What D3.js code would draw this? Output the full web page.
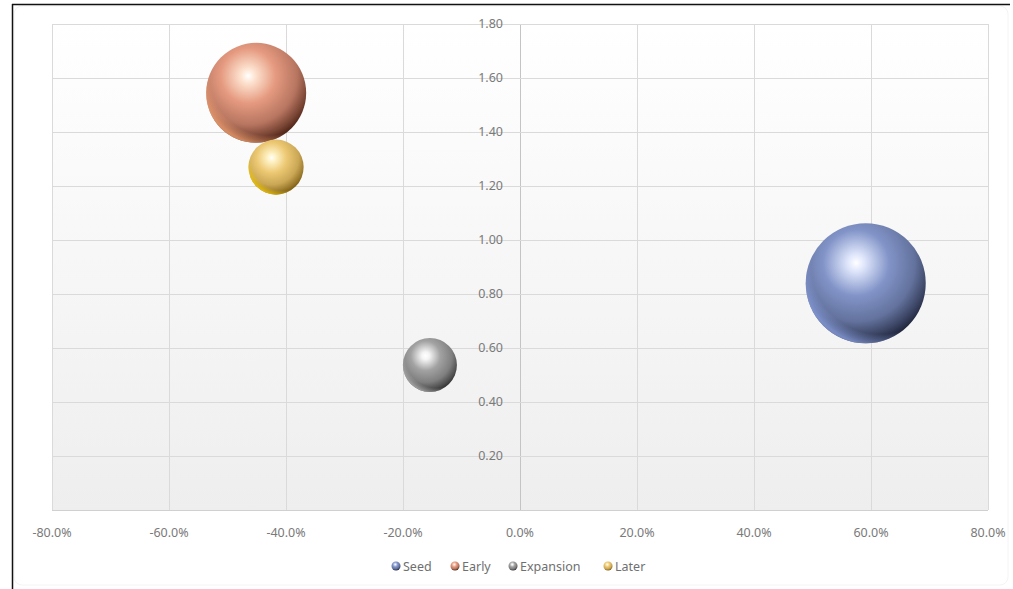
<!DOCTYPE html>
<html>
<head>
<meta charset="utf-8">
<script src="https://cdn.jsdelivr.net/npm/d3@7/dist/d3.min.js"></script>
<style>
  html, body { margin: 0; padding: 0; background: #ffffff; }
  svg { display: block; }
  text { font-family: "Noto Sans", "Open Sans", sans-serif; }
</style>
</head>
<body>
<svg id="chart" width="1013" height="589"></svg>
<script>
// ---- data ----
const seriesNames = ["Seed", "Early", "Expansion", "Later"];
const xValues = [0.591, -0.451, -0.154, -0.417];
const yValues = [0.84, 1.545, 0.537, 1.27];
const sizeValues = [36, 25, 7.3, 7.6];
const xTicks = [-0.8, -0.6, -0.4, -0.2, 0, 0.2, 0.4, 0.6, 0.8];
const yTicks = [0.2, 0.4, 0.6, 0.8, 1.0, 1.2, 1.4, 1.6, 1.8];
const baseColors = ["#8294c8", "#e59a80", "#a2a2a2", "#ecc873"];
const lightColors = ["#dfe6fb", "#fde3d0", "#f4f4f4", "#fff3c8"];
const darkColors = ["#1c2238", "#4a2014", "#2e2e2e", "#7a5a10"];
const rimColors = ["#8aa0e0", "#f0a070", "#b0b0b0", "#f0c800"];

const svg = d3.select("#chart");
const plot = { left: 52, top: 24, right: 988, bottom: 510 };

const x = d3.scaleLinear().domain([-0.8, 0.8]).range([plot.left, plot.right]);
const y = d3.scaleLinear().domain([0, 1.8]).range([plot.bottom, plot.top]);
const r = d3.scaleSqrt().domain([0, 36]).range([0, 60]);

const defs = svg.append("defs");
const bg = defs.append("linearGradient").attr("id", "plotbg")
  .attr("x1", 0).attr("y1", 0).attr("x2", 0).attr("y2", 1);
bg.append("stop").attr("offset", "0%").attr("stop-color", "#ffffff");
bg.append("stop").attr("offset", "100%").attr("stop-color", "#eeeeee");

seriesNames.forEach((n, i) => {
  const mid = d3.interpolateRgb(baseColors[i], darkColors[i]);
  const g = defs.append("radialGradient").attr("id", "sph" + i)
    .attr("cx", "42%").attr("cy", "33%").attr("r", "72%")
    .attr("fx", "42%").attr("fy", "33%");
  g.append("stop").attr("offset", "0%").attr("stop-color", "#ffffff");
  g.append("stop").attr("offset", "10%").attr("stop-color", lightColors[i]);
  g.append("stop").attr("offset", "38%").attr("stop-color", baseColors[i]);
  g.append("stop").attr("offset", "68%").attr("stop-color", mid(0.3));
  g.append("stop").attr("offset", "85%").attr("stop-color", mid(0.7));
  g.append("stop").attr("offset", "96%").attr("stop-color", darkColors[i]);
  // bottom-left rim reflection
  const g2 = defs.append("radialGradient").attr("id", "rim" + i)
    .attr("cx", "62%").attr("cy", "35%").attr("r", "70%")
    .attr("fx", "62%").attr("fy", "35%");
  g2.append("stop").attr("offset", "82%").attr("stop-color", rimColors[i]).attr("stop-opacity", 0);
  g2.append("stop").attr("offset", "96%").attr("stop-color", rimColors[i]).attr("stop-opacity", 0.75);
});

// outer frame
svg.append("rect").attr("x", 14).attr("y", 6).attr("width", 994).attr("height", 579)
  .attr("rx", 8).attr("fill", "#ffffff").attr("stroke", "#f4f4f4").attr("stroke-width", 1);
svg.append("line").attr("x1", 12).attr("x2", 1010).attr("y1", 4.5).attr("y2", 4.5)
  .attr("stroke", "#111").attr("stroke-width", 1.5);
svg.append("line").attr("x1", 12.5).attr("x2", 12.5).attr("y1", 4).attr("y2", 589)
  .attr("stroke", "#111").attr("stroke-width", 1.5);

// plot background
svg.append("rect").attr("x", plot.left).attr("y", plot.top)
  .attr("width", plot.right - plot.left).attr("height", plot.bottom - plot.top)
  .attr("fill", "url(#plotbg)");

// grid lines
const gridG = svg.append("g");
gridG.selectAll("line.vx").data(xTicks).join("line")
  .attr("x1", d => Math.round(x(d)) + 0.5).attr("x2", d => Math.round(x(d)) + 0.5)
  .attr("y1", plot.top).attr("y2", plot.bottom)
  .attr("stroke", d => d === 0 ? "#c4c4c4" : "#dadada").attr("stroke-width", 1);
gridG.selectAll("line.hy").data([0].concat(yTicks)).join("line")
  .attr("x1", plot.left).attr("x2", plot.right)
  .attr("y1", d => Math.round(y(d)) + 0.5).attr("y2", d => Math.round(y(d)) + 0.5)
  .attr("stroke", d => d === 0 ? "#d0d0d0" : "#dadada").attr("stroke-width", 1);

// y axis labels (next to vertical axis at x=0)
svg.append("g").selectAll("text").data(yTicks).join("text")
  .attr("x", x(0) - 17).attr("y", d => y(d) + 4)
  .attr("text-anchor", "end").attr("font-size", 12.5).attr("fill", "#7a7a7a")
  .text(d => d3.format(".2f")(d));

// x axis labels
const fmtX = d3.format(".1%");
svg.append("g").selectAll("text").data(xTicks).join("text")
  .attr("x", d => x(d)).attr("y", 537)
  .attr("text-anchor", "middle").attr("font-size", 12.5).attr("fill", "#7a7a7a")
  .text(d => fmtX(d).replace("−", "-"));

// bubbles (largest first)
const idx = d3.range(seriesNames.length).sort((a, b) => sizeValues[b] - sizeValues[a]);
const bub = svg.append("g");
idx.forEach(i => {
  const cx = x(xValues[i]), cy = y(yValues[i]), rr = r(sizeValues[i]);
  bub.append("circle").attr("cx", cx).attr("cy", cy).attr("r", rr).attr("fill", `url(#sph${i})`);
  bub.append("circle").attr("cx", cx).attr("cy", cy).attr("r", rr).attr("fill", `url(#rim${i})`);
});

// legend
const legendItems = [
  { x: 396, tx: 403 },
  { x: 455, tx: 462 },
  { x: 513, tx: 520 },
  { x: 608, tx: 615 }
];
const lg = svg.append("g");
seriesNames.forEach((n, i) => {
  lg.append("circle").attr("cx", legendItems[i].x).attr("cy", 566).attr("r", 4.5)
    .attr("fill", `url(#sph${i})`);
  lg.append("text").attr("x", legendItems[i].tx).attr("y", 570.5)
    .attr("font-size", 12.5).attr("fill", "#6f6f6f").text(n);
});
</script>
</body>
</html>
